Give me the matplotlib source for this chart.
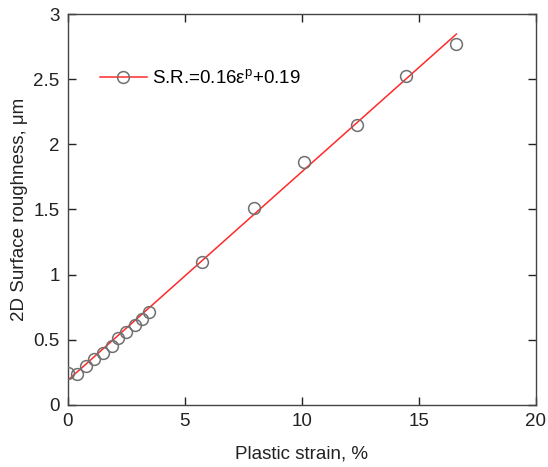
import numpy as np
import matplotlib
matplotlib.use('Agg')
import matplotlib.pyplot as plt

plt.rcParams['font.family'] = ['Liberation Sans', 'DejaVu Sans']

# measured points (plastic strain %, surface roughness um)
strain = [0.0, 0.38, 0.77, 1.13, 1.5, 1.87, 2.15, 2.5, 2.86, 3.15, 3.46,
          5.73, 7.95, 10.1, 12.35, 14.44, 16.6]
rough = [0.245, 0.24, 0.30, 0.35, 0.40, 0.45, 0.51, 0.56, 0.61, 0.66, 0.71,
         1.10, 1.51, 1.865, 2.15, 2.525, 2.77]

# linear fit S.R. = 0.16 e + 0.19
slope = 0.16
intercept = 0.19
fit_x = [0.0, 16.6]

fig = plt.figure(figsize=(5.48, 4.67), dpi=100)
ax = fig.add_axes([0.124, 0.133, 0.854, 0.837])

fx = np.array(fit_x)
ax.plot(fx, slope * fx + intercept, color='#ff2a2a', lw=1.1, zorder=2)
ax.plot(strain, rough, 'o', mfc='none', mec='#707070', ms=8.5, mew=1.1, zorder=3)

# legend entry: line with a circle in the middle
h, = ax.plot([], [], color='#ff2a2a', lw=1.1, marker='o', mfc='none',
             mec='#707070', ms=8.5, mew=1.1)
ax.legend([h], [r'S.R.=0.16$\mathregular{\varepsilon^p}$+0.19'], loc='center left',
          bbox_to_anchor=(0.068, 0.836), frameon=False, fontsize=13.5,
          handlelength=2.5, handletextpad=0.3, borderaxespad=0, borderpad=0)

ax.set_xlim(0, 20)
ax.set_ylim(0, 3)
ax.set_xticks([0, 5, 10, 15, 20])
ax.set_yticks([0, 0.5, 1, 1.5, 2, 2.5, 3])
ax.set_yticklabels(['0', '0.5', '1', '1.5', '2', '2.5', '3'])
ax.tick_params(direction='in', length=6, width=1, top=True, right=True,
               labelsize=13.5, colors='#222222', pad=6)
for s in ax.spines.values():
    s.set_color('#444444')
    s.set_linewidth(1)

ax.set_xlabel('Plastic strain, %', fontsize=13.5, labelpad=11, color='#222222')
ax.set_ylabel('2D Surface roughness, \u03bcm', fontsize=13.5, labelpad=4, color='#222222')

fig.savefig('out.png', dpi=100)
